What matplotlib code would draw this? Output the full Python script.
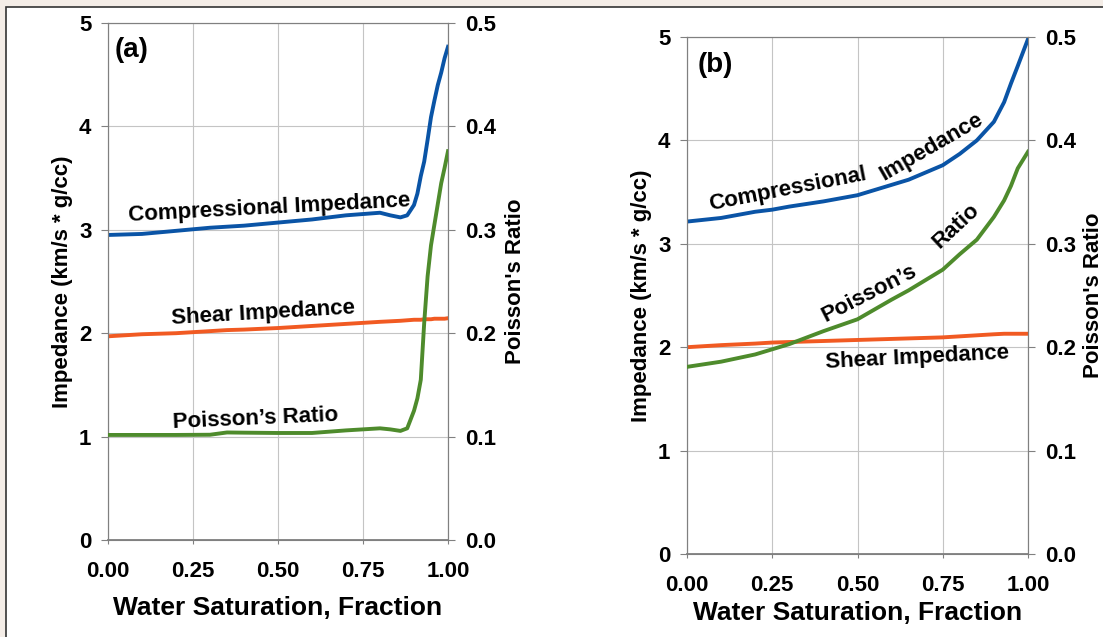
import matplotlib.pyplot as plt
from matplotlib.patches import Rectangle
from matplotlib.ticker import FormatStrFormatter

plt.rcParams['font.family'] = ['Liberation Sans', 'DejaVu Sans']
plt.rcParams['font.weight'] = 'bold'

# panel (a)
sw_a = [0, 0.1, 0.2, 0.3, 0.35, 0.4, 0.5, 0.6, 0.7, 0.8, 0.83, 0.86, 0.88,
        0.9, 0.91, 0.92, 0.93, 0.94, 0.95, 0.96, 0.97, 0.98, 0.99, 1.0]
comp_a = [2.95, 2.96, 2.99, 3.02, 3.03, 3.04, 3.07, 3.10, 3.14, 3.165, 3.14, 3.12, 3.14,
          3.24, 3.35, 3.52, 3.66, 3.87, 4.09, 4.25, 4.40, 4.52, 4.66, 4.77]
shear_a = [1.97, 1.99, 2.00, 2.02, 2.03, 2.035, 2.05, 2.07, 2.09, 2.11, 2.115, 2.12, 2.125,
           2.13, 2.13, 2.13, 2.135, 2.135, 2.135, 2.14, 2.14, 2.14, 2.14, 2.145]
pr_a = [0.1016, 0.1016, 0.1016, 0.1018, 0.104, 0.1038, 0.1035, 0.1035, 0.106, 0.108, 0.107, 0.1055, 0.108,
        0.125, 0.137, 0.155, 0.21, 0.255, 0.285, 0.305, 0.325, 0.345, 0.36, 0.376]

# panel (b)
sw_b = [0, 0.1, 0.2, 0.25, 0.3, 0.4, 0.5, 0.6, 0.65, 0.7, 0.75, 0.8, 0.85, 0.9, 0.93, 0.95, 0.97, 1.0]
comp_b = [3.215, 3.25, 3.31, 3.33, 3.36, 3.41, 3.47, 3.57, 3.62, 3.69, 3.76, 3.87, 4.0, 4.18, 4.37, 4.55, 4.72, 4.98]
shear_b = [2.0, 2.02, 2.035, 2.045, 2.05, 2.06, 2.07, 2.08, 2.085, 2.09, 2.095, 2.105, 2.115, 2.125, 2.13, 2.13, 2.13, 2.13]
pr_b = [0.181, 0.186, 0.193, 0.198, 0.203, 0.2155, 0.227, 0.246, 0.255, 0.265, 0.275, 0.29, 0.304, 0.326, 0.342, 0.356, 0.373, 0.389]

xticks = [0, 0.25, 0.5, 0.75, 1.0]
blue = '#0a54a6'
orange = '#f15a22'
green = '#4e8b2c'

fig = plt.figure(figsize=(11.03, 6.37), dpi=100, facecolor='#f4ede7')
fig.patches.append(Rectangle((6 / 1103, -0.01), 1.02, (637 - 7) / 637 + 0.01, transform=fig.transFigure,
                             facecolor='white', edgecolor='#333333', linewidth=1.2, zorder=-10))


def panel(rect, sw, comp, shear, pr, xlpad, rpad):
    ax = fig.add_axes(rect)
    ax.set_xlim(0, 1)
    ax.set_ylim(0, 5)
    ax.set_xticks(xticks)
    ax.set_yticks([0, 1, 2, 3, 4, 5])
    ax.xaxis.set_major_formatter(FormatStrFormatter('%.2f'))
    ax.grid(True, color='#c4c4c4', linewidth=0.8)
    ax.set_axisbelow(True)
    for s in ax.spines.values():
        s.set_color('#808080')
    ax.spines['bottom'].set_linewidth(1.3)
    ax.tick_params(axis='y', labelsize=16, length=5, color='#808080', pad=7)
    ax.tick_params(axis='x', labelsize=16, length=3, color='#808080', pad=12)
    ax.plot(sw, comp, color=blue, linewidth=2.8, zorder=3)
    ax.plot(sw, shear, color=orange, linewidth=2.8, zorder=3)
    ax.set_xlabel('Water Saturation, Fraction', fontsize=19, fontweight='bold', labelpad=xlpad)
    ax.set_ylabel('Impedance (km/s * g/cc)', fontsize=16, fontweight='bold', labelpad=4)
    ax2 = ax.twinx()
    ax2.set_ylim(0, 0.5)
    ax2.set_yticks([0, 0.1, 0.2, 0.3, 0.4, 0.5])
    ax2.yaxis.set_major_formatter(FormatStrFormatter('%.1f'))
    ax2.tick_params(axis='y', labelsize=16, length=5, color='#808080', pad=7)
    for s in ax2.spines.values():
        s.set_color('#808080')
    ax2.plot(sw, pr, color=green, linewidth=2.8, zorder=3)
    ax2.set_ylabel("Poisson's Ratio", fontsize=16, fontweight='bold', labelpad=rpad)
    return ax


ax_a = panel([108 / 1103, 97 / 637, 340 / 1103, 517 / 637], sw_a, comp_a, shear_a, pr_a, 10, 7)
ax_b = panel([687 / 1103, 83 / 637, 341 / 1103, 517 / 637], sw_b, comp_b, shear_b, pr_b, 4, 5)

tk = dict(fontsize=16, fontweight='bold', ha='center', va='center', rotation_mode='anchor')
ax_a.text(0.068, 4.74, '(a)', fontsize=20, fontweight='bold', ha='center', va='center')
ax_a.text(0.476, 3.21, 'Compressional Impedance', rotation=3, **tk)
ax_a.text(0.456, 2.19, 'Shear Impedance', rotation=3.3, **tk)
ax_a.text(0.435, 1.17, 'Poisson\u2019s Ratio', rotation=2.5, **tk)

ax_b.text(0.082, 4.73, '(b)', fontsize=20, fontweight='bold', ha='center', va='center')
ax_b.text(0.294, 3.53, 'Compressional', rotation=11, **tk)
ax_b.text(0.717, 3.94, 'Impedance', rotation=30, **tk)
ax_b.text(0.536, 2.52, 'Poisson\u2019s', rotation=27, **tk)
ax_b.text(0.79, 3.17, 'Ratio', rotation=43, **tk)
ax_b.text(0.676, 1.90, 'Shear Impedance', rotation=3, **tk)

fig.savefig('out.png', dpi=100, facecolor=fig.get_facecolor())
